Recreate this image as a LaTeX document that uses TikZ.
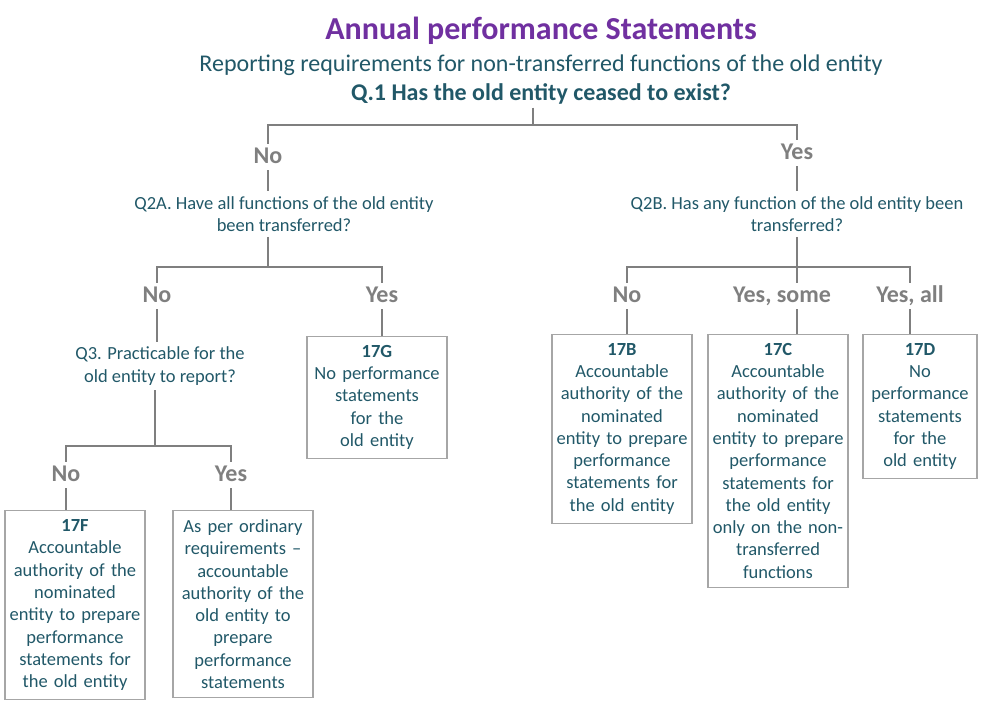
\documentclass[tikz,border=0pt]{standalone}
\usepackage{fontspec}
\setmainfont{Carlito}
\usepackage{xcolor}
\usetikzlibrary{positioning}
\definecolor{teal}{HTML}{215868}
\definecolor{purp}{HTML}{7030A0}
\definecolor{lgray}{HTML}{7F7F7F}
\definecolor{bgray}{HTML}{A6A6A6}
\tikzset{
  link/.style={draw=lgray, line width=1.6pt},
  lbl/.style={text=lgray, font=\fontsize{24}{28}\selectfont\bfseries, inner sep=4pt, text height=15pt, text depth=3pt},
  qtext/.style={text=teal, font=\fontsize{18.5}{22.3}\selectfont, align=center, inner sep=5pt},
  box/.style={draw=bgray, line width=1.2pt, text=teal, font=\fontsize{18.5}{22.3}\selectfont, align=center, inner xsep=4pt, inner ysep=9pt, anchor=north}
}
\begin{document}
\begin{tikzpicture}[x=1pt,y=-1pt]
        \useasboundingbox (0,0) rectangle (984,704);

        \node[text=purp, font=\fontsize{32}{36}\selectfont\bfseries] (title) at (541,31) {Annual performance Statements};
        \node[text=teal, font=\fontsize{24}{28}\selectfont] (sub) at (541,65) {Reporting requirements for non-transferred functions of the old entity};
        \node[text=teal, font=\fontsize{24}{28}\selectfont\bfseries, inner sep=3pt] (q1) at (541,94) {Q.1 Has the old entity ceased to exist?};

        \coordinate (j1) at (533,125);
        \node[lbl] (n1) at (268,157) {No};
        \node[lbl] (y1) at (797,153) {Yes};

        \node[qtext] (q2a) at (284,214) {Q2A. Have all functions of the old entity\\been transferred?};
        \node[qtext] (q2b) at (797,214) {Q2B. Has any function of the old entity been\\transferred?};

        % left branch
        \coordinate (j2a) at (268,267);
        \node[lbl] (n2a) at (157,296) {No};
        \node[lbl] (y2a) at (382,296) {Yes};
        \node[qtext] (q3) at (160,366) {Q3. Practicable for the\\old entity to report?};
        \node[box, text width=132pt] (g17) at (377,335.5) {\textbf{17G}\\No performance\\statements\\for the\\old entity};

        \coordinate (j3) at (155,446);
        \node[lbl] (n3) at (66,475) {No};
        \node[lbl] (y3) at (231,475) {Yes};
        \node[box, text width=132pt] (f17) at (75,510) {\textbf{17F}\\Accountable\\authority of the\\nominated\\entity to prepare\\performance\\statements for\\the old entity};
        \node[box, text width=132pt] (ord) at (243,510) {As per ordinary\\requirements --\\accountable\\authority of the\\old entity to\\prepare\\performance\\statements};

        % right branch
        \coordinate (j2b) at (797,267);
        \node[lbl] (n2b) at (627,296) {No};
        \node[lbl] (ys2b) at (782,296) {Yes, some};
        \node[lbl] (ya2b) at (910,296) {Yes, all};
        \node[box, text width=132pt] (b17) at (622,333.5) {\textbf{17B}\\Accountable\\authority of the\\nominated\\entity to prepare\\performance\\statements for\\the old entity};
        \node[box, text width=132pt] (c17) at (778,333.5) {\textbf{17C}\\Accountable\\authority of the\\nominated\\entity to prepare\\performance\\statements for\\the old entity\\only on the non-\\transferred\\functions};
        \node[box, text width=106pt] (d17) at (920,333.5) {\textbf{17D}\\No\\performance\\statements\\for the\\old entity};

        % connectors
        \draw[link] (q1.south -| j1) -- (j1);
        \draw[link] (n1) |- (j1) -| (y1);
        \draw[link] (n1) -- (q2a.north -| n1);
        \draw[link] (y1) -- (q2b.north -| y1);

        \draw[link] (q2a.south -| j2a) -- (j2a);
        \draw[link] (n2a) |- (j2a) -| (y2a);
        \draw[link] (n2a) -- (q3.north -| n2a);
        \draw[link] (y2a) -- (g17.north -| y2a);

        \draw[link] (q3.south -| j3) -- (j3);
        \draw[link] (n3) |- (j3) -| (y3);
        \draw[link] (n3) -- (f17.north -| n3);
        \draw[link] (y3) -- (ord.north -| y3);

        \draw[link] (q2b.south -| j2b) -- (j2b);
        \draw[link] (n2b) |- (j2b) -| (ya2b);
        \draw[link] (j2b) -- (ys2b.north -| j2b);
        \draw[link] (ys2b.south -| j2b) -- (c17.north -| j2b);
        \draw[link] (n2b) -- (b17.north -| n2b);
        \draw[link] (ya2b) -- (d17.north -| ya2b);

    \end{tikzpicture}
\end{document}
